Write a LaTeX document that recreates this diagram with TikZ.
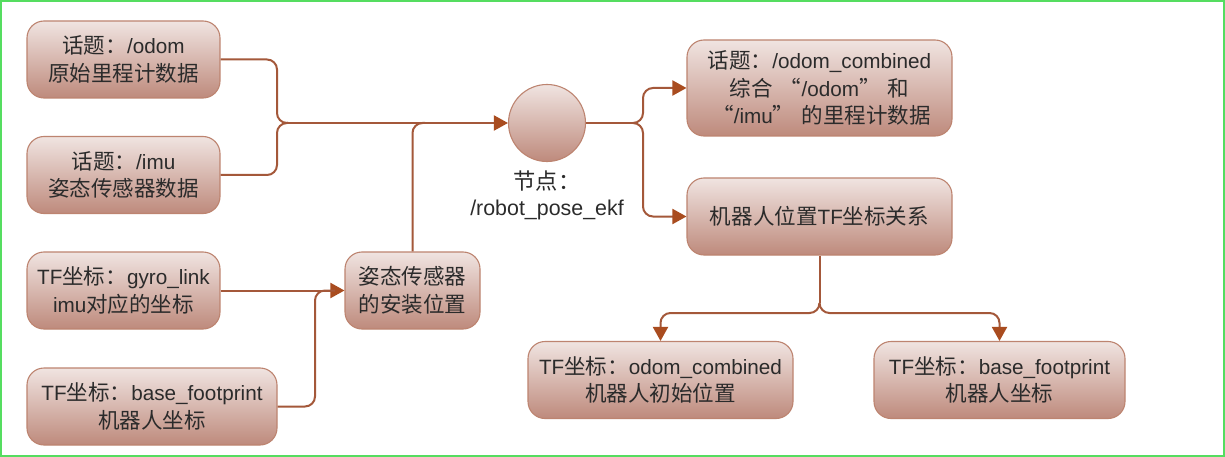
\documentclass[tikz,border=0pt]{standalone}
\usepackage{fontspec}
\setmainfont{Liberation Sans}
\newfontfamily\cjk[Scale=1.04]{Noto Sans CJK SC}
\newcommand{\zh}[1]{{\cjk #1}}
\usetikzlibrary{arrows.meta}
\definecolor{boxtop}{HTML}{F0E4E1}
\definecolor{boxmid}{HTML}{E0C6BF}
\definecolor{boxbot}{HTML}{BE8A7C}
\definecolor{boxline}{HTML}{BD8470}
\definecolor{wire}{HTML}{A4583A}
\definecolor{tip}{HTML}{A94C1F}
\definecolor{ink}{HTML}{2B2B2B}
\definecolor{frame}{HTML}{55DD60}
\tikzset{
  x=1pt,y=-1pt,
  txt/.style={text=ink,font=\fontsize{20.7}{27.5}\selectfont,align=center,inner sep=0pt},
  fillbox/.style={txt,draw=boxline,line width=1.1pt,top color=boxtop,middle color=boxmid,bottom color=boxbot},
  topicbox/.style={fillbox,rectangle,rounded corners=17pt,minimum width=#1,minimum height=77pt},
  topicbox/.default=193pt,
  conn/.style={draw=wire,line width=2pt,rounded corners=10pt},
  arr/.style={conn,-{Triangle[length=14pt,width=15pt,color=tip]}}
}
\begin{document}
\begin{tikzpicture}
\useasboundingbox (0,0) rectangle (1225,457);
\fill[white] (0,0) rectangle (1225,457);
\draw[frame,line width=1.6pt] (0.8,0.8) rectangle (1224.2,456.2);

\node[topicbox] (odom) at (123.5,59.5) {\zh{话题：}/odom\\\zh{原始里程计数据}};
\node[topicbox] (imu) at (123.5,175) {\zh{话题：}/imu\\\zh{姿态传感器数据}};
\node[topicbox] (gyro) at (123.5,290.5) {TF\zh{坐标：}gyro\_link\\imu\zh{对应的坐标}};
\node[topicbox=250pt] (base) at (152,406.5) {TF\zh{坐标：}base\_footprint\\\zh{机器人坐标}};
\node[topicbox=135pt] (mount) at (412.5,290.5) {\zh{姿态传感器}\\\zh{的安装位置}};
\node[fillbox,circle,minimum size=77pt] (ekf) at (547,123) {};
\node[txt,font=\fontsize{21.4}{25.5}\selectfont] (ekflabel) at (547,195.5) {\zh{节点：}\\/robot\_pose\_ekf};
\node[topicbox=265pt,minimum height=96pt] (combined) at (819.5,88) {\zh{话题：}/odom\_combined\\\zh{综合}\hspace{7pt}\zh{“}/odom\zh{”}\hspace{7pt}\zh{和}\\\hspace{4pt}\zh{“}/imu\zh{”}\hspace{7pt}\zh{的里程计数据}};
\node[topicbox=265pt] (tfrel) at (819.5,216.5) {\zh{机器人位置}TF\zh{坐标关系}};
\node[topicbox=265pt] (odomc) at (660.5,380) {TF\zh{坐标：}odom\_combined\\\zh{机器人初始位置}};
\node[topicbox=251pt] (basec) at (999.5,380) {TF\zh{坐标：}base\_footprint\\\zh{机器人坐标}};

\coordinate (leftfork) at (288,123);
\coordinate (leftbend) at (277,123);
\coordinate (mountjoin) at (425,123);
\coordinate (rightfork) at (633,123);
\coordinate (rightbend) at (643,123);
\coordinate (downfork) at (819.5,303);
\coordinate (downbar) at (819.5,313);
\coordinate (mountbar) at (315,290.5);
\coordinate (mountend) at (335,290.5);

\draw[conn] (odom.east) -| (leftbend) -- (leftfork);
\draw[conn] (imu.east) -| (leftbend) -- (leftfork);
\draw[arr] (leftfork) -- (ekf.west);
\draw[conn] (mount.north) |- (mountjoin);

\draw[conn] (ekf.east) -- (rightfork);
\draw[arr] (rightfork) -- (rightbend) |- (combined.west);
\draw[arr] (rightfork) -- (rightbend) |- (tfrel.west);

\draw[arr] (gyro.east) -- (mount.west);
\draw[conn] (base.east) -| (mountbar) -- (mountend);

\draw[conn] (tfrel.south) -- (downfork);
\draw[arr] (downfork) -- (downbar) -| (odomc.north);
\draw[arr] (downfork) -- (downbar) -| (basec.north);
\end{tikzpicture}
\end{document}
